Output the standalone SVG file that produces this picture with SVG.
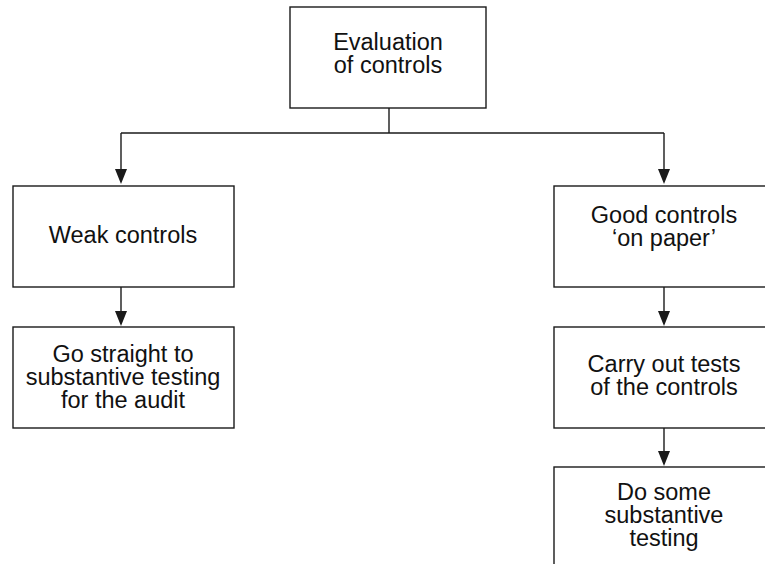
<svg xmlns="http://www.w3.org/2000/svg" width="765" height="564" viewBox="0 0 765 564">
<defs>
<style>
.box{fill:#fff;stroke:#1a1a1a;stroke-width:1.4}
.t{font-family:"Liberation Sans",Arial,sans-serif;font-size:23.5px;fill:#111;text-anchor:middle}
.c{fill:none;stroke:#1a1a1a;stroke-width:1.4}
.ah{fill:#1a1a1a}
</style>
</defs>
<rect width="765" height="564" fill="#fff"/>
<g id="connectors">
<path class="c" d="M389,108 V133"/>
<path class="c" d="M121,133 H664"/>
<path class="c" d="M121,133 V180"/>
<path class="c" d="M664,133 V180"/>
<path class="c" d="M121,287 V321"/>
<path class="c" d="M664,287 V321"/>
<path class="c" d="M664,428 V461"/>
<polygon class="ah" points="115,169 127,169 121,184"/>
<polygon class="ah" points="658,169 670,169 664,184"/>
<polygon class="ah" points="115,311 127,311 121,326"/>
<polygon class="ah" points="658,311 670,311 664,326"/>
<polygon class="ah" points="658,451 670,451 664,466"/>
</g>
<g id="n-eval">
<rect class="box" x="290" y="7" width="196" height="101"/>
<text class="t" x="388" y="50">Evaluation</text>
<text class="t" x="388" y="73">of controls</text>
</g>
<g id="n-weak">
<rect class="box" x="13" y="186" width="221" height="101"/>
<text class="t" x="123" y="243">Weak controls</text>
</g>
<g id="n-straight">
<rect class="box" x="13" y="327" width="221" height="101"/>
<text class="t" x="123" y="362">Go straight to</text>
<text class="t" x="123" y="385">substantive testing</text>
<text class="t" x="123" y="408">for the audit</text>
</g>
<g id="n-good">
<rect class="box" x="554" y="186" width="220" height="101"/>
<text class="t" x="664" y="223">Good controls</text>
<text class="t" x="664" y="246">‘on paper’</text>
</g>
<g id="n-tests">
<rect class="box" x="554" y="327" width="220" height="101"/>
<text class="t" x="664" y="372">Carry out tests</text>
<text class="t" x="664" y="395">of the controls</text>
</g>
<g id="n-some">
<rect class="box" x="554" y="467" width="220" height="110"/>
<text class="t" x="664" y="500">Do some</text>
<text class="t" x="664" y="523">substantive</text>
<text class="t" x="664" y="546">testing</text>
</g>
</svg>
